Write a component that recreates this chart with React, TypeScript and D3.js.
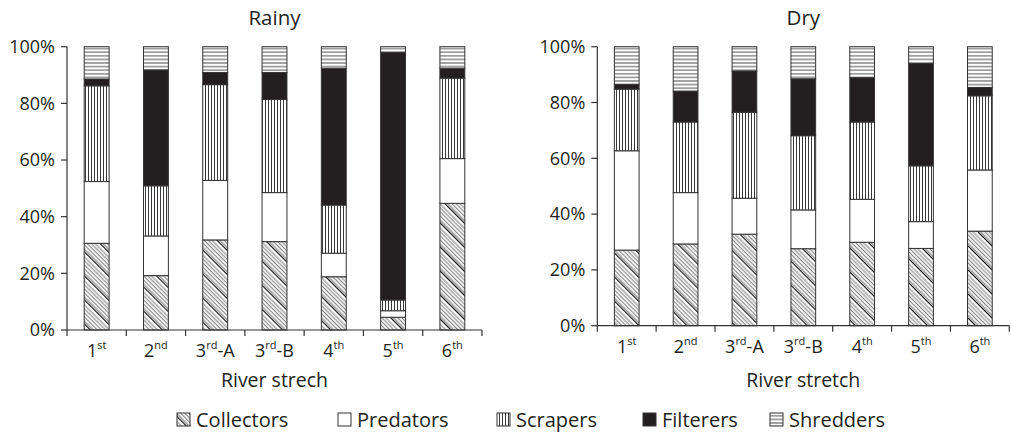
import React from "react";
import * as d3 from "d3";

const W = 1011;
const H = 432;
const FONT = "'Open Sans', sans-serif";
const INK = "#231f20";

// river stretches; [main, superscript, suffix]
const stretches = [
    ["1", "st", ""],
    ["2", "nd", ""],
    ["3", "rd", "-A"],
    ["3", "rd", "-B"],
    ["4", "th", ""],
    ["5", "th", ""],
    ["6", "th", ""]
];

const groups = ["Collectors", "Predators", "Scrapers", "Filterers", "Shredders"];

// percentages
const rainyCollectors = [30.6, 19.2, 31.8, 31.2, 18.8, 4.5, 44.7];
const rainyPredators = [21.8, 14.0, 21.0, 17.3, 8.3, 2.3, 15.8];
const rainyScrapers = [33.8, 17.7, 33.8, 32.9, 17.0, 3.8, 28.4];
const rainyFilterers = [2.4, 40.9, 4.3, 9.5, 48.3, 87.4, 3.5];
const rainyShredders = [11.4, 8.2, 9.1, 9.1, 7.6, 2.0, 7.6];

const dryCollectors = [27.1, 29.3, 32.8, 27.6, 29.9, 27.7, 33.9];
const dryPredators = [35.6, 18.4, 12.9, 13.9, 15.4, 9.6, 21.9];
const dryScrapers = [22.1, 25.3, 30.8, 26.6, 27.7, 20.0, 26.6];
const dryFilterers = [1.7, 11.1, 14.8, 20.4, 15.9, 36.7, 3.0];
const dryShredders = [13.5, 15.9, 8.7, 11.5, 11.1, 6.0, 14.6];

const yTicks = [0, 20, 40, 60, 80, 100];

const toRows = (series) =>
    stretches.map((s, i) => {
        const row = {key: s.join("")};
        groups.forEach((g, j) => (row[g] = series[j][i]));
        return row;
    });

const rainyRows = toRows([rainyCollectors, rainyPredators, rainyScrapers, rainyFilterers, rainyShredders]);
const dryRows = toRows([dryCollectors, dryPredators, dryScrapers, dryFilterers, dryShredders]);

const fills = {
    Collectors: "url(#pat-collectors)",
    Predators: "#ffffff",
    Scrapers: "url(#pat-scrapers)",
    Filterers: INK,
    Shredders: "url(#pat-shredders)"
};

const Panel = ({rows, title, xTitle, left, right, top, bottom}) => {
    const x = d3.scaleBand()
        .domain(rows.map(r => r.key))
        .range([left, right])
        .paddingInner(0.58)
        .paddingOuter(0.29);

    const y = d3.scaleLinear()
        .domain([0, 100])
        .range([bottom, top]);

    const totals = rows.map(r => d3.sum(groups, g => r[g]));
    const normalized = rows.map((r, i) => {
        const n = {key: r.key};
        groups.forEach(g => (n[g] = r[g] / totals[i] * 100));
        return n;
    });

    const stacked = d3.stack().keys(groups)(normalized);
    const step = x.step();
    const boundaries = d3.range(rows.length + 1).map(i => left + i * step);

    return (
        <g>
            <text x={(left + right) / 2} y={25} textAnchor="middle" fontSize={20.5} fill={INK}>{title}</text>
            {stacked.map(layer => (
                <g key={layer.key}>
                    {layer.map(d => (
                        <rect
                            key={d.data.key}
                            x={x(d.data.key)}
                            y={y(d[1])}
                            width={x.bandwidth()}
                            height={y(d[0]) - y(d[1])}
                            fill={fills[layer.key]}
                            stroke="#333"
                            strokeWidth={1}
                        />
                    ))}
                </g>
            ))}
            {/* y axis */}
            <line x1={left} x2={left} y1={top} y2={bottom} stroke="#333" strokeWidth={1.2}/>
            {yTicks.map(t => (
                <g key={t}>
                    <line x1={left - 6} x2={left} y1={y(t)} y2={y(t)} stroke="#333" strokeWidth={1.2}/>
                    <text x={left - 12} y={y(t)} dy="0.35em" textAnchor="end" fontSize={18} fill={INK}>{t}%</text>
                </g>
            ))}
            {/* x axis */}
            <line x1={left} x2={right} y1={bottom} y2={bottom} stroke="#333" strokeWidth={1.2}/>
            {boundaries.map((b, i) => (
                <line key={i} x1={b} x2={b} y1={bottom} y2={bottom + 6} stroke="#333" strokeWidth={1.2}/>
            ))}
            {stretches.map(([main, sup, suffix], i) => (
                <text
                    key={i}
                    x={x(rows[i].key) + x.bandwidth() / 2}
                    y={bottom + 27}
                    textAnchor="middle"
                    fontSize={18}
                    fill={INK}
                >
                    {main}
                    <tspan fontSize={11} dy={-8}>{sup}</tspan>
                    {suffix && <tspan dy={8}>{suffix}</tspan>}
                </text>
            ))}
            <text x={(left + right) / 2} y={387} textAnchor="middle" fontSize={19.5} fill={INK}>{xTitle}</text>
        </g>
    );
};

const legendX = [177, 338, 497, 643, 770];

export default function App() {
    return (
        <svg
            width={W}
            height={H}
            style={{position: "absolute", left: 0, top: 0, background: "#fff"}}
            fontFamily={FONT}
        >
            <defs>
                <pattern id="pat-collectors" width={17} height={17} patternUnits="userSpaceOnUse"
                         patternTransform="rotate(-45)">
                    <rect width={17} height={17} fill="#fff"/>
                    {[2.8, 5.6, 8.4, 11.2, 14].map(p => (
                        <line key={p} x1={p} x2={p} y1={0} y2={17} stroke="#666" strokeWidth={0.9}/>
                    ))}
                    <line x1={0.6} x2={0.6} y1={0} y2={17} stroke="#111" strokeWidth={1.3}/>
                </pattern>
                <pattern id="pat-scrapers" width={3} height={10} patternUnits="userSpaceOnUse">
                    <rect width={3} height={10} fill="#fff"/>
                    <line x1={1.5} x2={1.5} y1={0} y2={10} stroke="#222" strokeWidth={0.9}/>
                </pattern>
                <pattern id="pat-shredders" width={10} height={3.6} patternUnits="userSpaceOnUse">
                    <rect width={10} height={3.6} fill="#fff"/>
                    <line x1={0} x2={10} y1={1.8} y2={1.8} stroke="#333" strokeWidth={0.9}/>
                </pattern>
            </defs>
            <rect width={W} height={H} fill="#fff"/>
            <Panel rows={rainyRows} title="Rainy" xTitle="River strech"
                   left={67} right={482} top={46.7} bottom={330}/>
            <Panel rows={dryRows} title="Dry" xTitle="River stretch"
                   left={597.3} right={1009.3} top={46.7} bottom={325.7}/>
            {groups.map((g, i) => (
                <g key={g}>
                    <rect x={legendX[i]} y={413} width={13} height={13} fill={fills[g]} stroke="#333" strokeWidth={1}/>
                    <text x={legendX[i] + 19} y={427} fontSize={20} fill={INK}>{g}</text>
                </g>
            ))}
        </svg>
    );
}
